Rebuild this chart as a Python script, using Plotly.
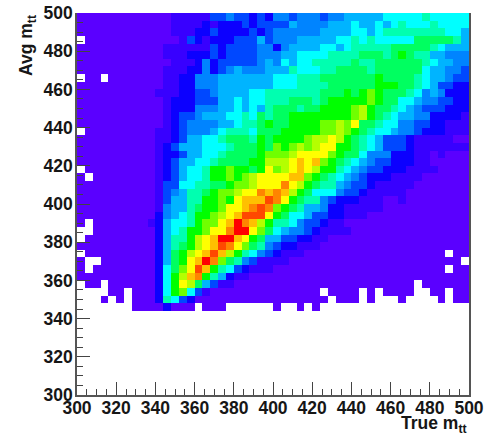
import plotly.graph_objects as go

# Colour level of each 4x4 bin, top row (Avg m_tt 496-500) first, "." = empty bin.
level_rows = [
"111111111111 22222 44 5 443 43 | 55 4 555 4 55 66666 77777 8 77777",
"111111111111 2222 323334344 | 44 6 5555 666 7 66 7 6 7 8 777 8 7777",
"111111111111 222 33 4 33 33 4 3 4 | 555555 666 6 7 7 6 7 88888888 7 7 6",
". 111111111111 2 4 3 2 333 444 6 4 | 555 66666 77 8 7 8 77777 99999 8 6",
"11111111111 222 222 4 3 4444 55 | 3 5 6666 77 6 7 88888 99999 8 7 666",
"11111111111 222 333 4 3 444 4 55 | 5 66 7777 8888 9998 9 a 9 88 66 555",
"111111111111 222 3 5 3 4444 4 5 6 | 5 7 6 77 88888 9 88 999999 8 7 66 55",
"11111111111 222 33 5 3 4 5 6 555 6 | 66 8 777 88 9999 8 99999 9 7 66 55 4",
".11.1111111 22 33 555 6666666 | 777 888 999999 9a9999 8 7 66 5 44",
"11111111111 22 33 555 6666 6 66 | 777 8888 999999 aaa 99 8 7 6 44 33",
"1111111111 222 33 44 5 666 6 77 8 | 888888 999 a 9 a b a 9 99 8 7 5 6 5 333",
"11111111111 2 333 444 66 7 6 77 8 | 88 999 8 9 aaaaa b a 99 77 6 55 44 33",
"11111111111 2 333 555 66 7 6 7 6 8 | 99 9 8 99 aaaa b c a 99 8 7 6 5 444 333",
"11111111111 2 3 44 5 666 77 8 7 9 8 | 99 aaaa aaaa b c a 9 8 7 66 55 3333 2",
"11111111111 2345555667889a | 99 aa aa bb c b d 99 8 77 55 44 33 222",
". 111111111 22 3 4 555 6 7 88 8 7 99 | 9 aaaaa b b c b a 9 8 77 6 55 4 333 222",
"1111111111 22 3 4 66 77 8 99 9 8 a 9 | aaaa b c c d c a 9 8 7 6 444 3 22222 11",
"1111111111 2 3 4 666 777 8 999 a 9 | b a b c b c dd a a 9 8 7 6 444 3 2222222",
"1111111111 2 33 4 66 77 8 9999 a b | bb c dddd b a 99 7 555 333 22 1 2 111",
"1111111111 2 3 4 66 77 8 999 9 aa c | c c d e d e b a 9 8 7 6 5 44 333 22 11111",
". 111111111 2 3 4 6 77 8 aa b a a 9 a d | b c d e d c aa 8 7 6 5 44 333 2222 1111",
"1 . 11111111 2 3 4 6 77 8 aa b a b c dd | dd ee b a 9 8 7 6 5 4 3 3322 22 111111",
"1111111111 2 44 77 88 99 a bb c dd | d f d c a 9 8 8 6 5 44 3 22222 1111111",
"1111111111 2 4 5 6 88 9 a bb c dd f e | f e c a 9 7 7 7 5 4 4 3 22222 11111111",
"1111111111 2 4 6 6 88 aa b a d e ee g | f d a 9 8 8 5 4 3 33 222 11 2 11111111",
"1111111111 2 5 6 6 8 9 aa b dd e f g f | b a 9 8 66 5 33 22222 11111111111",
"1111111111 3 5 6 7 8 aa b c d e ggg d | a 9 7 7 6 44 33 222 1111111111111",
"1 . 1111111 2 3 6 7 7 8 a bb d e h f e c a | 8 8 7 5 44 3 22 1111111111111111",
".. 11111111 3 6 7 8 aa b dd f hh d b 9 | 7 6 5 5 4 3 2222 111111111111111",
". 111111111 3 6 8 8 a c d e hh e d a 9 6 | 6 44 33 22 111111111111111111",
"1111111111 3 6 8 9 a c d e g f d b 9 8 5 | 4 33 222 1111111111111111111",
". 111111111 3 6 9 a c d e g e c a 8 7 5 4 | 3 222 111111111111111111 . 11",
"1 .. 1111111 3 6 9 a d e h f b 9 8 5 4 22 | 22 1111111111111111111111 .",
"1 . 11111111 3 7 9 b d g e a 8 7 4 3 222 | 1111111111111111111111 . 11",
"1111111111 3 7 a c e f a 8 6 3 22 111 | 1111111111111111111111111",
". 11 . 111111 3 7 a d c 9 6 4 22 11111 | 111111111111111111 . 111111",
".... 11 . 111 3 7 a b 7 4 2 11111111 | 111111 . 1111 . 1 . 1111 .. 11 . 11",
"... 1 . 1 . 111 3 8 7 4 3 1111111111 | 1111111 . 111 . 1 ... 1 .... 1 . 11",
"....... 1111 3 111 . 111 ...... | 1 .. 1 . 1 ...................",
] + ["." * 50] * 11

level_colors = [
    "#5a00ff", "#3800ff", "#0c00ff", "#0048ff", "#0084ff", "#00b4ff",
    "#00ffff", "#00ffb0", "#00ff60", "#00ff00", "#70ff00", "#b4ff00",
    "#ffff00", "#ffc000", "#ff8400", "#ff4800", "#ff0000", "#ff0000",
]
level_codes = "123456789abcdefghi"

x_edges_start, bin_width = 300, 4
x_tick_values = [300, 320, 340, 360, 380, 400, 420, 440, 460, 480, 500]
y_tick_values = [300, 320, 340, 360, 380, 400, 420, 440, 460, 480, 500]
x_title = "<b>True m<sub>tt</sub></b>"
y_title = "<b>Avg m<sub>tt</sub></b>"

z = []
for row in level_rows:
    cells = row.replace(" ", "").replace("|", "")
    assert len(cells) == 50, (row, len(cells))
    z.append([None if c == "." else level_codes.index(c) + 1 for c in cells])
z = z[::-1]

centers = [x_edges_start + bin_width * (i + 0.5) for i in range(50)]
n = len(level_colors)
scale = [[i / (n - 1), c] for i, c in enumerate(level_colors)]

fig = go.Figure(go.Heatmap(
    x=centers, y=centers, z=z, zmin=1, zmax=n,
    colorscale=scale, showscale=False, zsmooth=False, hoverongaps=False,
))

tick_font = dict(family="Liberation Sans", size=17.5, color="#161616", weight="bold")
axis_common = dict(
    range=[300, 500], tickmode="array", ticks="inside", ticklen=13, tickwidth=1,
    tickcolor="#444444", showgrid=False, zeroline=False, showline=True, automargin=False,
    linecolor="#555555", linewidth=1.5, tickfont=tick_font,
    minor=dict(dtick=5, tick0=300, ticks="inside", ticklen=6, tickwidth=1,
               tickcolor="#444444", showgrid=False),
)
fig.update_xaxes(tickvals=x_tick_values, ticktext=[str(v) for v in x_tick_values],
                 ticklabelstandoff=-4, **axis_common)
fig.update_yaxes(tickvals=y_tick_values, ticktext=[str(v) for v in y_tick_values],
                 ticklabelstandoff=-1, mirror=True, **axis_common)

title_font = dict(family="Liberation Sans", size=17.5, color="#161616")
fig.update_layout(
    width=488, height=435, autosize=False,
    margin=dict(l=77, r=19, t=13, b=40, pad=0),
    paper_bgcolor="white", plot_bgcolor="white",
    annotations=[
        dict(text=x_title, xref="paper", yref="paper", x=1, y=0, xanchor="right",
             yanchor="top", yshift=-16, showarrow=False, font=title_font),
        dict(text=y_title, xref="paper", yref="paper", x=0, y=1, xanchor="right",
             yanchor="top", xshift=-36, showarrow=False, textangle=-90, font=title_font),
    ],
)
fig.write_html("out.html", config=dict(displayModeBar=False),
               post_script="document.body.style.margin='0';")
